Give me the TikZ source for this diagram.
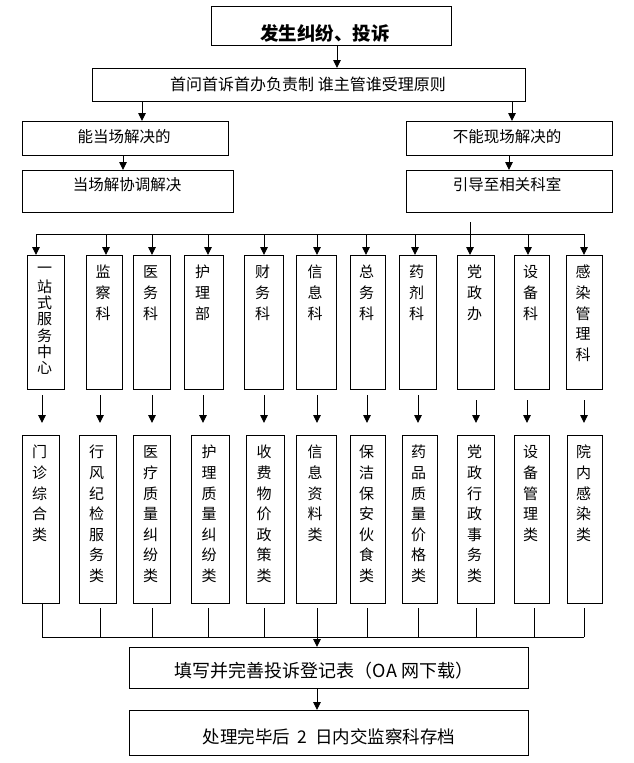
\documentclass[tikz,border=0pt]{standalone}
\usepackage{fontspec}
\setmainfont{Noto Sans CJK SC}
\usetikzlibrary{arrows.meta}
\tikzset{
  box/.style={draw, line width=0.9pt, inner sep=0pt, outer sep=0pt},
  arr/.style={draw, line width=0.9pt, -{Triangle[length=8pt,width=7.5pt]}},
  ln/.style={draw, line width=0.9pt},
  htxt/.style={font=\fontsize{15.5}{18}\selectfont, inner sep=0pt},
  stxt/.style={font=\fontsize{16}{18}\selectfont, inner sep=0pt},
  ftxt/.style={font=\fontsize{18}{20}\selectfont, inner sep=0pt},
  atxt/.style={font=\fontsize{17.5}{20}\selectfont, inner sep=0pt},
  ttxt/.style={font=\bfseries\fontsize{18.5}{20}\selectfont, inner sep=0pt},
  vtxt/.style={font=\fontsize{15}{20.6}\selectfont, align=center, inner sep=0pt, anchor=north},
  vtxtB/.style={font=\fontsize{15}{16.2}\selectfont, align=center, inner sep=0pt, anchor=north},
}
\newcommand\mkbox[5]{\node[box, minimum width={(#4)-(#2)}, minimum height={(#5)-(#3)}] (#1) at ({((#2)+(#4))/2},{((#3)+(#5))/2}) {};}
\begin{document}
\begin{tikzpicture}[x=1pt,y=-1pt]
\useasboundingbox (0,0) rectangle (633,763);
% top part
\mkbox{top}{211}{6}{451}{45}
\node[ttxt] (ttop) at (325,33) {发生纠纷、投诉};
\mkbox{second}{92}{68}{525}{101}
\node[stxt] (tsecond) at (308,84) {首问首诉首办负责制 谁主管谁受理原则};
\mkbox{lefta}{22}{121}{228}{155}
\node[htxt] (tlefta) at (124,137) {能当场解决的};
\mkbox{leftb}{22}{170}{233}{212}
\node[htxt] (tleftb) at (127,185) {当场解协调解决};
\mkbox{righta}{406}{121}{612}{155}
\node[htxt] (trighta) at (507,137) {不能现场解决的};
\mkbox{rightb}{406}{170}{612}{212}
\node[htxt] (trightb) at (507,185) {引导至相关科室};
\coordinate (xa) at (337,0);
\coordinate (xb) at (142,0);
\coordinate (xc) at (123,0);
\coordinate (xd) at (512,0);
\coordinate (xe) at (509,0);
\draw[arr] (xa |- top.south) -- (xa |- second.north);
\draw[arr] (xb |- second.south) -- (xb |- lefta.north);
\draw[arr] (xc |- lefta.south) -- (xc |- leftb.north);
\draw[arr] (xd |- second.south) -- (xd |- righta.north);
\draw[arr] (xe |- righta.south) -- (xe |- rightb.north);
% bus to departments
\coordinate (vs) at (470,222);
\coordinate (busT) at (0,234);
\draw[ln] (vs) -- (vs |- busT);
\foreach \i/\colA/\colB/\catA/\catB/\ain/\amid/\shs/\aout/\shb/\colS/\colY/\colT/\catT in {
  1/27/64/22/59/36/42/6/42/0/vtxtB/-7.4/{一\\站\\式\\服\\务\\中\\心}/{门\\诊\\综\\合\\类},
  2/86/122/79/116/106/100/6/100/5/vtxt/-8.3/{监\\察\\科}/{行\\风\\纪\\检\\服\\务\\类},
  3/133/170/133/170/152/152/6/152/5/vtxt/-8.3/{医\\务\\科}/{医\\疗\\质\\量\\纠\\纷\\类},
  4/184/223/191/229/208/203/6/208/5/vtxt/-8.3/{护\\理\\部}/{护\\理\\质\\量\\纠\\纷\\类},
  5/244/283/246/284/264/264/6/264/5/vtxt/-8.3/{财\\务\\科}/{收\\费\\物\\价\\政\\策\\类},
  6/296/336/296/336/317/317/6/317/5/vtxt/-8.3/{信\\息\\科}/{信\\息\\资\\料\\类},
  7/350/385/350/385/366/367/6/367/5/vtxt/-8.3/{总\\务\\科}/{保\\洁\\保\\安\\伙\\食\\类},
  8/399/436/402/437/415/418/6/418/5/vtxt/-8.3/{药\\剂\\科}/{药\\品\\质\\量\\价\\格\\类},
  9/457/494/457/494/470/476/11/476/5/vtxt/-8.3/{党\\政\\办}/{党\\政\\行\\政\\事\\务\\类},
  10/514/549/514/549/528/527/11/534/5/vtxt/-8.3/{设\\备\\科}/{设\\备\\管\\理\\类},
  11/566/602/567/602/584/584/11/584/5/vtxt/-8.3/{感\\染\\管\\理\\科}/{院\\内\\感\\染\\类}}{
  \mkbox{c\i}{\colA}{255}{\colB}{389}
  \node[\colS] (ct\i) at ([xshift=-1pt,yshift=\colY pt]c\i.north) {\strut\colT};
  \mkbox{k\i}{\catA}{435}{\catB}{603}
  \node[vtxt] (kt\i) at ([xshift=-1pt,yshift=-8.3pt]k\i.north) {\strut\catT};
  \coordinate (ai\i) at (\ain,234);
  \draw[arr] (ai\i) -- (ai\i |- c\i.north);
  \coordinate (am\i) at (\amid,0);
  \draw[arr, shorten <=\shs pt, shorten >=12pt] (am\i |- c\i.south) -- (am\i |- k\i.north);
  \coordinate (ab\i) at (\aout,637);
  \draw[ln, shorten <=\shb pt] (ab\i |- k\i.south) -- (ab\i);
}
\draw[ln] (ai1) -- (ai11);
\draw[ln] (ab1) -- (ab11);
% bottom part
\mkbox{fill}{129}{647}{528}{688}
\node[ftxt] (tfill) at (324,671) {填写并完善投诉登记表（OA 网下载）};
\mkbox{arch}{129}{710}{528}{755}
\node[atxt] (tarch) at (329,737) {处理完毕后\hspace{0.45em}2\hspace{0.45em}日内交监察科存档};
\coordinate (af) at (317,637);
\draw[arr] (af) -- (af |- fill.north);
\draw[arr] (af |- fill.south) -- (af |- arch.north);
\end{tikzpicture}
\end{document}
